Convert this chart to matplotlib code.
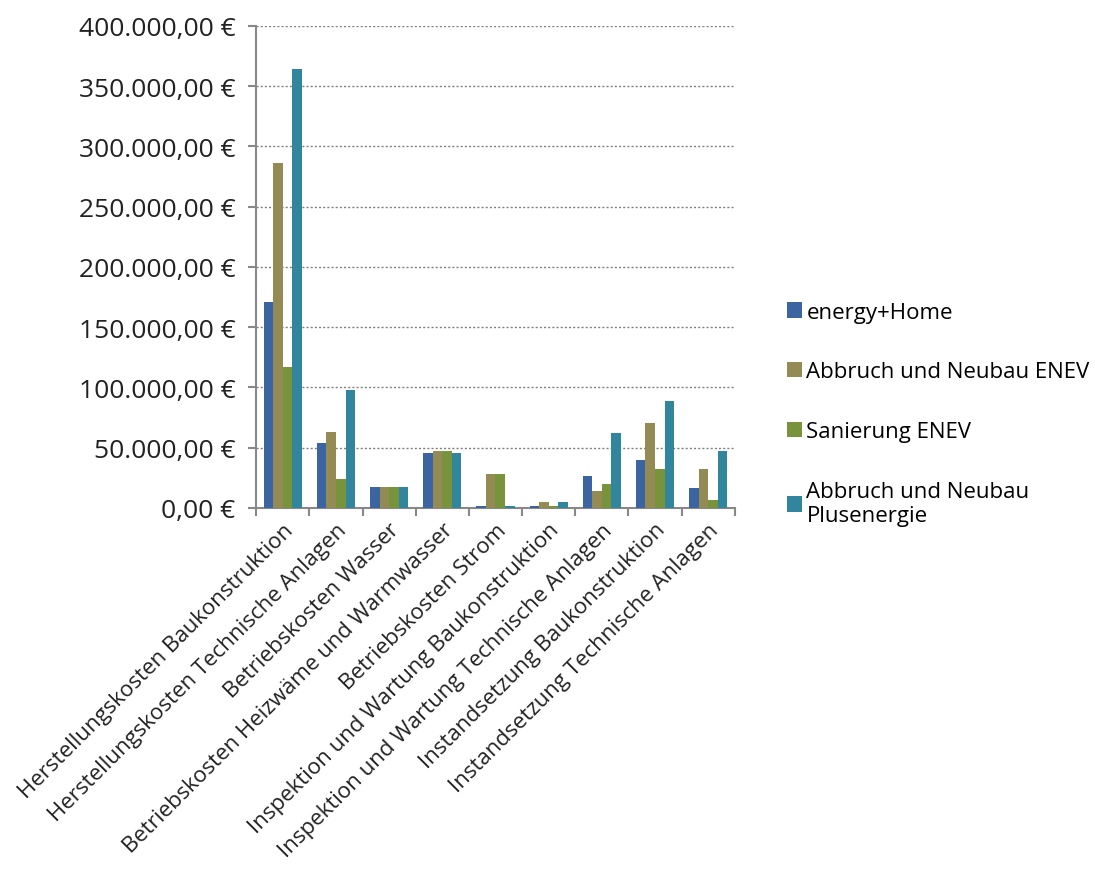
import numpy as np
import matplotlib.pyplot as plt
from matplotlib.ticker import FuncFormatter, FixedLocator

plt.rcParams['font.family'] = ['Open Sans', 'DejaVu Sans']

categories = [
    "Herstellungskosten Baukonstruktion",
    "Herstellungskosten Technische Anlagen",
    "Betriebskosten Wasser",
    "Betriebskosten Heizwäme und Warmwasser",
    "Betriebskosten Strom",
    "Inspektion und Wartung Baukonstruktion",
    "Inspektion und Wartung Technische Anlagen",
    "Instandsetzung Baukonstruktion",
    "Instandsetzung Technische Anlagen",
]
series_names = ["energy+Home", "Abbruch und Neubau ENEV", "Sanierung ENEV",
                "Abbruch und Neubau\nPlusenergie"]
energy_home = [171000, 54200, 17000, 45200, 2000, 2000, 26500, 39800, 16700]
neubau_enev = [286600, 63000, 17000, 47200, 28200, 4800, 14000, 70300, 32500]
sanierung_enev = [117000, 23800, 17000, 47200, 28200, 2000, 19800, 32500, 6200]
neubau_plus = [364600, 97600, 17000, 45200, 2000, 4800, 62400, 88400, 47200]
colors = ["#3B64A0", "#948A54", "#77933C", "#31859C"]

fig = plt.figure(figsize=(10.95, 8.7), dpi=100)
ax = fig.add_axes([0.234, 0.415, 0.437, 0.554])

x = np.arange(len(categories))
w = 0.18
all_series = [energy_home, neubau_enev, sanierung_enev, neubau_plus]
for i, (vals, name, c) in enumerate(zip(all_series, series_names, colors)):
    ax.bar(x + (i - 1.5) * w, vals, width=w, color=c, label=name, zorder=3)

ax.set_xlim(-0.5, len(categories) - 0.5)
ax.set_ylim(0, 400000)
ax.set_yticks(np.arange(0, 400001, 50000))
ax.yaxis.set_major_formatter(FuncFormatter(
    lambda v, p: f"{v:,.2f}".replace(",", "X").replace(".", ",").replace("X", ".") + " €"))
ax.grid(axis='y', color='#808080', linestyle=(0, (1.5, 1.5)), linewidth=1, zorder=0)

# category ticks sit between the groups, labels at the centres
ax.xaxis.set_major_locator(FixedLocator(np.arange(-0.5, len(categories), 1.0)))
ax.xaxis.set_minor_locator(FixedLocator(x))
ax.set_xticklabels([])
ax.set_xticklabels(categories, minor=True, rotation=45, ha='right',
                   rotation_mode='anchor', fontsize=16, color='#222222')
ax.tick_params(axis='x', which='minor', length=0, pad=8)
ax.tick_params(axis='x', which='major', length=6, width=1.5, color='#888888')
ax.tick_params(axis='y', length=6, width=1.5, color='#888888', labelsize=19,
               labelcolor='#222222', pad=9)

for s in ['top', 'right']:
    ax.spines[s].set_visible(False)
for s in ['left', 'bottom']:
    ax.spines[s].set_color('#888888')
    ax.spines[s].set_linewidth(1.5)

ax.legend(loc='center left', bbox_to_anchor=(0.7, 0.523), bbox_transform=fig.transFigure,
          frameon=False, fontsize=16, handlelength=0.7, handleheight=0.7,
          handletextpad=0.2, labelspacing=1.75)

fig.savefig("out.png", dpi=100)
